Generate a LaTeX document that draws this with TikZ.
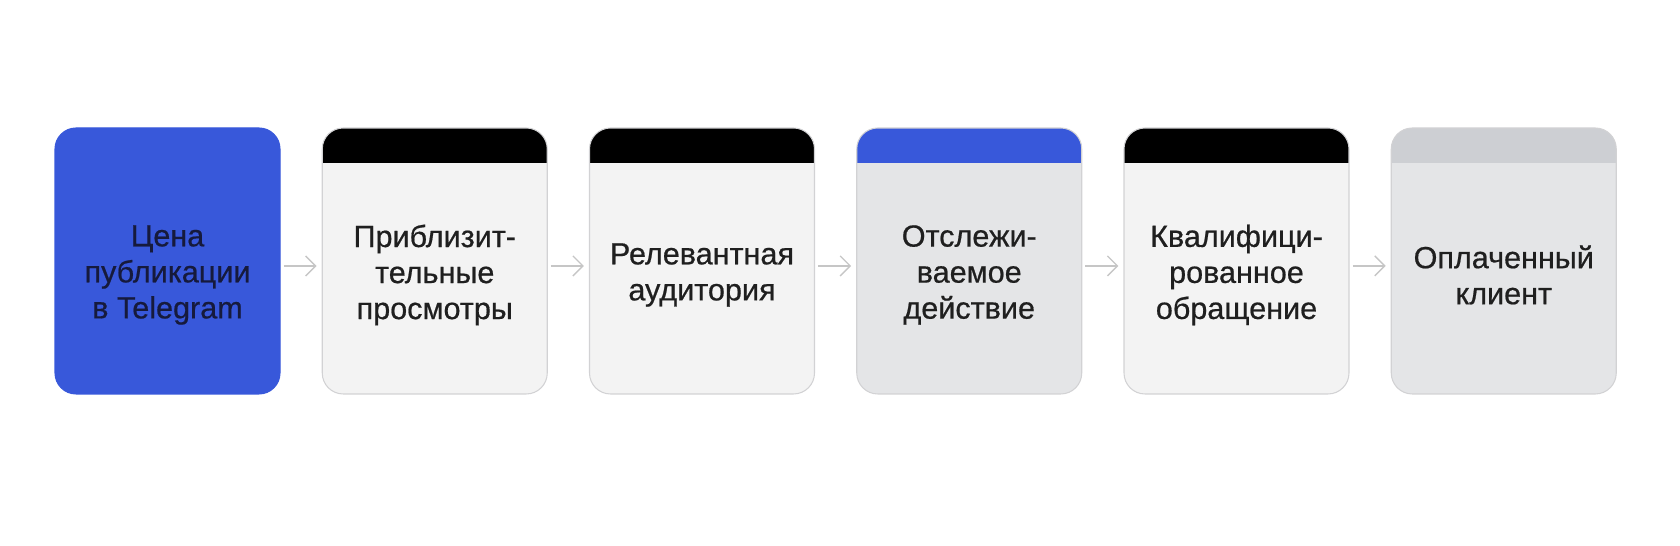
\documentclass[tikz,border=0pt]{standalone}
\usepackage{fontspec}
\setmainfont[FakeBold=0.6]{Liberation Sans}
\usetikzlibrary{shapes, arrows.meta}
\definecolor{tgblue}{RGB}{56,88,218}
\definecolor{navytext}{RGB}{22,26,60}
\definecolor{cardlight}{RGB}{243,243,243}
\definecolor{cardgray}{RGB}{228,229,231}
\definecolor{cardborder}{RGB}{210,210,212}
\definecolor{headgray}{RGB}{205,207,211}
\definecolor{arrowgray}{RGB}{198,198,198}
\tikzstyle{stage} = [rectangle, rounded corners=0.42cm, minimum width=4.5cm, minimum height=5.32cm, draw=cardborder, fill=cardlight, line width=0.6pt]
\tikzstyle{blackhead} = [path picture={\fill[black, sharp corners] (path picture bounding box.north west) rectangle ([yshift=-0.7cm]path picture bounding box.north east);}]
\tikzstyle{bluehead} = [path picture={\fill[tgblue, sharp corners] (path picture bounding box.north west) rectangle ([yshift=-0.7cm]path picture bounding box.north east);}]
\tikzstyle{grayhead} = [path picture={\fill[headgray, sharp corners] (path picture bounding box.north west) rectangle ([yshift=-0.7cm]path picture bounding box.north east);}]
\tikzstyle{stagetext} = [align=center, font=\fontsize{17.4}{20.5}\selectfont, text=black!88]
\tikzstyle{arrow} = [line width=0.8pt, draw=arrowgray, -{Straight Barb[length=0.2cm, width=0.4cm]}, shorten <=0.06cm, shorten >=0.1cm]

\begin{document}
\begin{tikzpicture}[node distance=5.345cm]
    \useasboundingbox (0,0) rectangle (33.6,10.92);
    \node (price) [stage, fill=tgblue, draw=tgblue] at (3.35,5.70) {};
    \node (views) [stage, blackhead, right of=price] {};
    \node (audience) [stage, blackhead, right of=views] {};
    \node (action) [stage, bluehead, fill=cardgray, right of=audience] {};
    \node (lead) [stage, blackhead, right of=action] {};
    \node (client) [stage, grayhead, fill=cardgray, right of=lead] {};

    \node [stagetext, text=navytext] at ([yshift=-0.28cm]price.center) {Цена\\публикации\\в Telegram};
    \node [stagetext] at ([yshift=-0.28cm]views.center) {Приблизит-\\тельные\\просмотры};
    \node [stagetext] at ([yshift=-0.28cm]audience.center) {Релевантная\\аудитория};
    \node [stagetext] at ([yshift=-0.28cm]action.center) {Отслежи-\\ваемое\\действие};
    \node [stagetext] at ([yshift=-0.28cm]lead.center) {Квалифици-\\рованное\\обращение};
    \node [stagetext] at ([yshift=-0.28cm]client.center) {Оплаченный\\клиент};

    \draw [arrow] ([yshift=-0.1cm]price.east) -- ([yshift=-0.1cm]views.west);
    \draw [arrow] ([yshift=-0.1cm]views.east) -- ([yshift=-0.1cm]audience.west);
    \draw [arrow] ([yshift=-0.1cm]audience.east) -- ([yshift=-0.1cm]action.west);
    \draw [arrow] ([yshift=-0.1cm]action.east) -- ([yshift=-0.1cm]lead.west);
    \draw [arrow] ([yshift=-0.1cm]lead.east) -- ([yshift=-0.1cm]client.west);
\end{tikzpicture}
\end{document}
